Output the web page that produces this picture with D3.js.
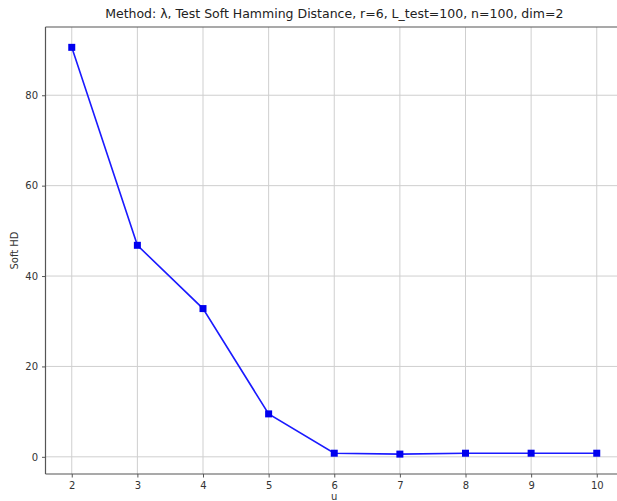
<!DOCTYPE html>
<html>
<head>
<meta charset="utf-8">
<script src="https://cdn.jsdelivr.net/npm/d3@7"></script>
<style>
  html, body { margin: 0; padding: 0; background: #fff; overflow: hidden; }
  svg { display: block; font-family: "DejaVu Sans", sans-serif; }
</style>
</head>
<body>
<svg id="chart" width="617" height="501"></svg>
<script>
// Soft Hamming distance on the test set for each value of u
const uValues = [2, 3, 4, 5, 6, 7, 8, 9, 10];
const softHD = [90.6, 46.8, 32.8, 9.5, 0.8, 0.6, 0.8, 0.8, 0.8];
const xTicks = [2, 3, 4, 5, 6, 7, 8, 9, 10];
const yTicks = [0, 20, 40, 60, 80];

const chartTitle = "Method: \u03bb, Test Soft Hamming Distance, r=6, L_test=100, n=100, dim=2";
const xLabel = "u";
const yLabel = "Soft HD";

const svg = d3.select("#chart");
const plotLeft = 45.5, plotRight = 623, plotTop = 27, plotBottom = 474;

const x = d3.scaleLinear().domain([1.6, 10.4]).range([plotLeft, plotRight]);
const y = d3.scaleLinear().domain([-3.8, 95.1]).range([plotBottom, plotTop]);

// grid lines
const grid = svg.append("g");
grid.selectAll(".gx").data(xTicks).enter().append("line")
  .attr("x1", d => x(d)).attr("x2", d => x(d))
  .attr("y1", plotTop).attr("y2", plotBottom)
  .attr("stroke", "#cfcfcf").attr("stroke-width", 1);
grid.selectAll(".gy").data(yTicks).enter().append("line")
  .attr("x1", plotLeft).attr("x2", plotRight)
  .attr("y1", d => y(d)).attr("y2", d => y(d))
  .attr("stroke", "#cfcfcf").attr("stroke-width", 1);

// axes
const xAxis = d3.axisBottom(x).tickValues(xTicks).tickSize(3.5).tickPadding(4).tickFormat(d3.format("d"));
const yAxis = d3.axisLeft(y).tickValues(yTicks).tickSize(3.5).tickPadding(4).tickFormat(d3.format("d"));

const gx = svg.append("g").attr("transform", `translate(0,${plotBottom})`).call(xAxis);
const gy = svg.append("g").attr("transform", `translate(${plotLeft},0)`).call(yAxis);
[gx, gy].forEach(g => {
  g.select(".domain").remove();
  g.selectAll(".tick line").attr("stroke", "#444").attr("stroke-width", 0.9);
  g.selectAll(".tick text").attr("fill", "#333").style("font-size", "10px")
    .style("font-family", "\"DejaVu Sans\", sans-serif");
});

// spines
svg.append("line").attr("x1", plotLeft).attr("x2", plotLeft).attr("y1", plotTop).attr("y2", plotBottom)
  .attr("stroke", "#555").attr("stroke-width", 1.2);
svg.append("line").attr("x1", plotLeft).attr("x2", plotRight).attr("y1", plotBottom).attr("y2", plotBottom)
  .attr("stroke", "#555").attr("stroke-width", 1.2);
svg.append("line").attr("x1", plotLeft).attr("x2", plotRight).attr("y1", plotTop).attr("y2", plotTop)
  .attr("stroke", "#555").attr("stroke-width", 1.2);

// data line and square markers
const pts = uValues.map((u, i) => ({ u, v: softHD[i] }));
const line = d3.line().x(d => x(d.u)).y(d => y(d.v));
svg.append("path").datum(pts).attr("d", line)
  .attr("fill", "none").attr("stroke", "#1a1aff").attr("stroke-width", 1.6);
svg.selectAll(".pt").data(pts).enter().append("rect")
  .attr("x", d => x(d.u) - 3.5).attr("y", d => y(d.v) - 3.5)
  .attr("width", 7).attr("height", 7).attr("fill", "#0000ee");

// title and axis labels
svg.append("text").attr("x", (plotLeft + plotRight) / 2).attr("y", 18)
  .attr("text-anchor", "middle").style("font-size", "12.5px").attr("fill", "#222")
  .text(chartTitle);
svg.append("text").attr("transform", `translate(18,${(plotTop + plotBottom) / 2}) rotate(-90)`)
  .attr("text-anchor", "middle").style("font-size", "10px").attr("fill", "#333")
  .text(yLabel);
svg.append("text").attr("x", x(6)).attr("y", 499.5)
  .attr("text-anchor", "middle").style("font-size", "10px").attr("fill", "#333")
  .text(xLabel);
</script>
</body>
</html>
